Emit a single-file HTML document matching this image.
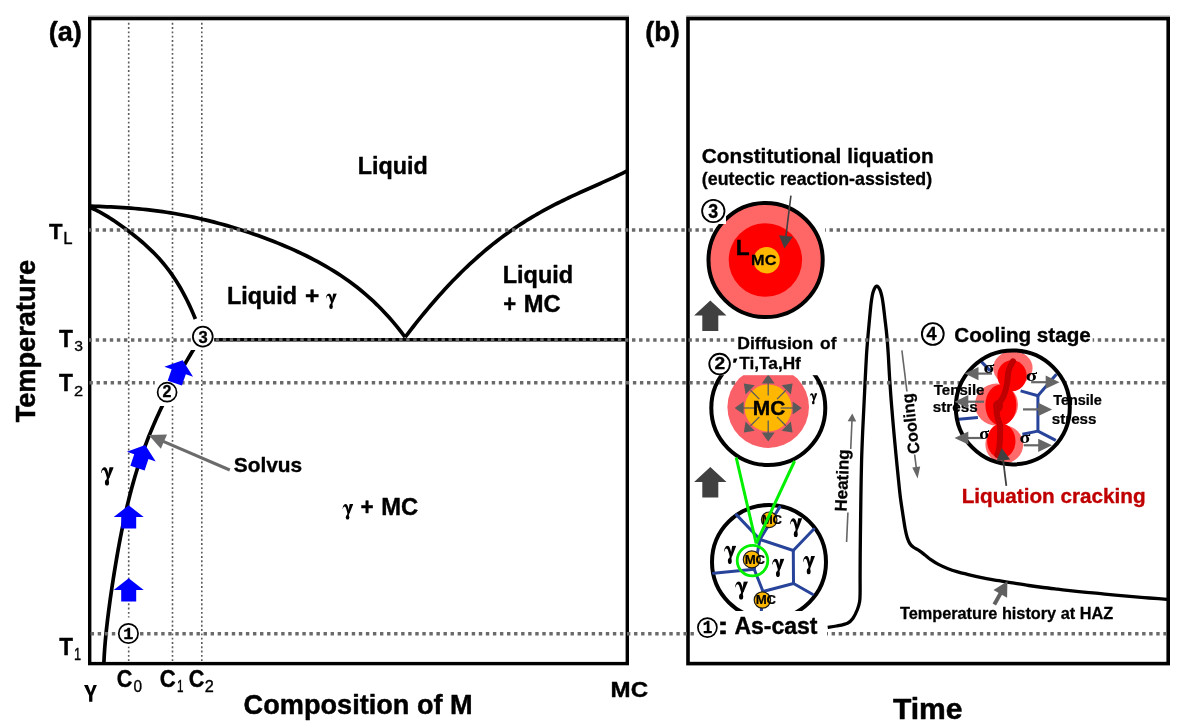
<!DOCTYPE html><html><head><meta charset="utf-8"><style>html,body{margin:0;padding:0;background:#fff;width:1180px;height:728px;overflow:hidden}svg{display:block;will-change:transform}</style></head><body>
<svg width="1180" height="728" viewBox="0 0 1180 728">
<defs><symbol id="gam" viewBox="0 0 11 16" preserveAspectRatio="none"><path d="M0.2,5.2 C0.3,2.4 1.6,0.2 3.2,0.2 C4.8,0.2 5.4,2.0 6.0,4.0 L7.4,8.9 L5.2,9.5 L3.9,5.0 C3.4,3.3 3.0,2.6 2.3,2.6 C1.4,2.6 0.8,3.6 0.6,5.2 Z" fill="#000"/><path d="M7.4,0.2 L11,0.2 L7.3,9.3 L5.8,8.8 Z" fill="#000"/><path d="M5.4,8.4 L7.3,8.7 L6.4,12.0 L4.5,12.0 Z" fill="#000"/><ellipse cx="5.25" cy="13.4" rx="1.75" ry="2.6" fill="#000"/></symbol></defs>
<rect width="1180" height="728" fill="#fff"/>
<line x1="128.70" y1="21" x2="128.70" y2="662" stroke="#5a5a5a" stroke-width="1.6" stroke-dasharray="1.9 2.4" stroke-dashoffset="2.5"/>
<line x1="172.50" y1="21" x2="172.50" y2="662" stroke="#5a5a5a" stroke-width="1.6" stroke-dasharray="1.9 2.4" stroke-dashoffset="2.5"/>
<line x1="201.80" y1="21" x2="201.80" y2="662" stroke="#5a5a5a" stroke-width="1.6" stroke-dasharray="1.9 2.4" stroke-dashoffset="2.5"/>
<rect x="89.7" y="18.6" width="537.6" height="645" fill="none" stroke="#000" stroke-width="3.4"/>
<rect x="688.0" y="18.6" width="480.2" height="645" fill="none" stroke="#000" stroke-width="3.6"/>
<line x1="88" y1="16.2" x2="629" y2="16.2" stroke="#9a9a9a" stroke-width="1.4"/>
<line x1="686.2" y1="16.2" x2="1170" y2="16.2" stroke="#9a9a9a" stroke-width="1.4"/>
<path d="M91.00,206.19 L94.98,206.33 L98.95,206.47 L102.93,206.63 L106.90,206.79 L110.88,206.97 L114.86,207.17 L118.83,207.39 L122.81,207.63 L126.78,207.90 L130.76,208.19 L134.74,208.51 L138.71,208.87 L142.69,209.25 L146.66,209.66 L150.64,210.11 L154.62,210.60 L158.59,211.12 L162.57,211.67 L166.54,212.26 L170.52,212.89 L174.49,213.55 L178.47,214.24 L182.45,214.98 L186.42,215.75 L190.40,216.56 L194.37,217.40 L198.35,218.28 L202.33,219.19 L206.30,220.14 L210.28,221.12 L214.25,222.14 L218.23,223.19 L222.21,224.28 L226.18,225.40 L230.16,226.55 L234.13,227.74 L238.11,228.96 L242.09,230.22 L246.06,231.51 L250.04,232.84 L254.01,234.20 L257.99,235.59 L261.97,237.02 L265.94,238.49 L269.92,240.00 L273.89,241.54 L277.87,243.13 L281.85,244.76 L285.82,246.43 L289.80,248.15 L293.77,249.92 L297.75,251.73 L301.73,253.60 L305.70,255.53 L309.68,257.52 L313.65,259.57 L317.63,261.68 L321.61,263.87 L325.58,266.13 L329.56,268.47 L333.53,270.90 L337.51,273.42 L341.48,276.03 L345.46,278.75 L349.44,281.57 L353.41,284.51 L357.39,287.58 L361.36,290.77 L365.34,294.11 L369.32,297.59 L373.29,301.23 L377.27,305.04 L381.24,309.02 L385.22,313.19 L389.20,317.56 L393.17,322.14 L397.15,326.93 L401.12,331.97 L405.10,337.25" fill="none" stroke="#000" stroke-width="3.70" stroke-linejoin="round"/>
<path d="M91.00,207.78 L93.13,208.72 L95.26,209.72 L97.39,210.79 L99.52,211.92 L101.65,213.09 L103.78,214.31 L105.91,215.58 L108.04,216.89 L110.18,218.23 L112.31,219.61 L114.44,221.02 L116.57,222.46 L118.70,223.93 L120.83,225.43 L122.96,226.95 L125.09,228.51 L127.22,230.09 L129.35,231.69 L131.48,233.33 L133.61,235.00 L135.74,236.70 L137.87,238.44 L140.00,240.21 L142.13,242.03 L144.27,243.89 L146.40,245.80 L148.53,247.77 L150.66,249.79 L152.79,251.88 L154.92,254.04 L157.05,256.27 L159.18,258.59 L161.31,260.99 L163.44,263.49 L165.57,266.10 L167.70,268.82 L169.83,271.66 L171.96,274.64 L174.09,277.75 L176.22,281.01 L178.36,284.44 L180.49,288.04 L182.62,291.81 L184.75,295.79 L186.88,299.97 L189.01,304.37 L191.14,309.00 L193.27,313.88 L195.40,319.01" fill="none" stroke="#000" stroke-width="3.70" stroke-linejoin="round"/>
<path d="M405.10,337.23 L407.92,333.53 L410.74,329.87 L413.56,326.25 L416.39,322.68 L419.21,319.16 L422.03,315.68 L424.85,312.25 L427.67,308.87 L430.49,305.53 L433.32,302.24 L436.14,299.00 L438.96,295.80 L441.78,292.66 L444.60,289.57 L447.42,286.52 L450.24,283.52 L453.07,280.57 L455.89,277.68 L458.71,274.83 L461.53,272.03 L464.35,269.28 L467.17,266.57 L469.99,263.92 L472.82,261.32 L475.64,258.76 L478.46,256.25 L481.28,253.79 L484.10,251.38 L486.92,249.02 L489.75,246.70 L492.57,244.43 L495.39,242.20 L498.21,240.02 L501.03,237.89 L503.85,235.79 L506.67,233.75 L509.50,231.74 L512.32,229.78 L515.14,227.85 L517.96,225.97 L520.78,224.13 L523.60,222.32 L526.43,220.55 L529.25,218.82 L532.07,217.13 L534.89,215.47 L537.71,213.84 L540.53,212.24 L543.35,210.68 L546.18,209.14 L549.00,207.64 L551.82,206.16 L554.64,204.70 L557.46,203.27 L560.28,201.87 L563.11,200.48 L565.93,199.12 L568.75,197.77 L571.57,196.44 L574.39,195.13 L577.21,193.83 L580.03,192.54 L582.86,191.26 L585.68,189.99 L588.50,188.72 L591.32,187.46 L594.14,186.21 L596.96,184.95 L599.78,183.69 L602.61,182.43 L605.43,181.16 L608.25,179.89 L611.07,178.60 L613.89,177.31 L616.71,176.00 L619.54,174.67 L622.36,173.33 L625.18,171.96 L628.00,170.57" fill="none" stroke="#000" stroke-width="3.70" stroke-linejoin="round"/>
<path d="M200.60,338.00 L198.35,341.64 L196.11,345.28 L193.88,348.92 L191.67,352.56 L189.48,356.20 L187.31,359.84 L185.16,363.48 L183.04,367.12 L180.94,370.76 L178.87,374.40 L176.83,378.04 L174.82,381.69 L172.84,385.33 L170.89,388.97 L168.98,392.61 L167.10,396.25 L165.26,399.89 L163.45,403.53 L161.68,407.17 L159.95,410.81 L158.26,414.45 L156.60,418.09 L154.98,421.73 L153.40,425.37 L151.85,429.01 L150.34,432.65 L148.87,436.29 L147.44,439.93 L146.04,443.57 L144.68,447.21 L143.36,450.85 L142.07,454.49 L140.81,458.13 L139.59,461.78 L138.40,465.42 L137.25,469.06 L136.12,472.70 L135.03,476.34 L133.97,479.98 L132.93,483.62 L131.93,487.26 L130.95,490.90 L130.00,494.54 L129.07,498.18 L128.17,501.82 L127.29,505.46 L126.43,509.10 L125.60,512.74 L124.79,516.38 L123.99,520.02 L123.22,523.66 L122.46,527.30 L121.72,530.94 L121.00,534.58 L120.29,538.22 L119.60,541.87 L118.92,545.51 L118.26,549.15 L117.61,552.79 L116.97,556.43 L116.34,560.07 L115.72,563.71 L115.12,567.35 L114.52,570.99 L113.94,574.63 L113.36,578.27 L112.80,581.91 L112.24,585.55 L111.69,589.19 L111.16,592.83 L110.63,596.47 L110.12,600.11 L109.62,603.75 L109.13,607.39 L108.65,611.03 L108.18,614.67 L107.73,618.31 L107.30,621.96 L106.88,625.60 L106.47,629.24 L106.09,632.88 L105.73,636.52 L105.39,640.16 L105.07,643.80 L104.78,647.44 L104.52,651.08 L104.29,654.72 L104.09,658.36 L103.93,662.00" fill="none" stroke="#000" stroke-width="3.70" stroke-linejoin="round"/>
<line x1="213" y1="339.8" x2="627" y2="339.8" stroke="#000" stroke-width="3.4"/>
<rect x="191.00" y="321.00" width="23.20" height="29.00" fill="#fff"/>
<rect x="155.00" y="377.00" width="26.50" height="29.00" fill="#fff"/>
<rect x="117.50" y="617.50" width="22.00" height="29.00" fill="#fff"/>
<path d="M827.70,627.30 C829.17,627.08 833.20,626.68 836.50,626.00 C839.80,625.32 844.75,624.50 847.50,623.20 C850.25,621.90 851.35,620.48 853.00,618.20 C854.65,615.92 856.30,612.23 857.40,609.50 C858.50,606.77 859.15,604.55 859.60,601.80 C860.05,599.05 860.02,597.22 860.10,593.00 C860.18,588.78 860.08,582.83 860.10,576.50 C860.12,570.17 860.12,564.42 860.20,555.00 C860.28,545.58 860.47,530.83 860.60,520.00 C860.73,509.17 860.83,500.00 861.00,490.00 C861.17,480.00 861.32,469.83 861.60,460.00 C861.88,450.17 862.30,440.27 862.70,431.00 C863.10,421.73 863.58,412.95 864.00,404.40 C864.42,395.85 864.78,387.93 865.20,379.70 C865.62,371.47 866.10,361.55 866.50,355.00 C866.90,348.45 867.22,345.07 867.60,340.40 C867.98,335.73 868.40,331.40 868.80,327.00 C869.20,322.60 869.57,318.33 870.00,314.00 C870.43,309.67 870.85,304.75 871.40,301.00 C871.95,297.25 872.42,293.97 873.30,291.50 C874.18,289.03 875.58,286.45 876.70,286.20 C877.82,285.95 879.08,288.03 880.00,290.00 C880.92,291.97 881.60,295.08 882.20,298.00 C882.80,300.92 883.15,304.08 883.60,307.50 C884.05,310.92 884.47,314.83 884.90,318.50 C885.33,322.17 885.80,325.75 886.20,329.50 C886.60,333.25 886.95,336.75 887.30,341.00 C887.65,345.25 887.90,348.55 888.30,355.00 C888.70,361.45 889.17,371.47 889.70,379.70 C890.23,387.93 890.85,396.17 891.50,404.40 C892.15,412.63 892.87,420.87 893.60,429.10 C894.33,437.33 895.17,446.15 895.90,453.80 C896.63,461.45 897.28,467.97 898.00,475.00 C898.72,482.03 899.40,489.50 900.20,496.00 C901.00,502.50 901.97,508.50 902.80,514.00 C903.63,519.50 904.47,525.08 905.20,529.00 C905.93,532.92 906.43,535.08 907.20,537.50 C907.97,539.92 908.75,541.87 909.80,543.50 C910.85,545.13 911.93,546.12 913.50,547.30 C915.07,548.48 917.28,549.32 919.20,550.60 C921.12,551.88 923.07,553.50 925.00,555.00 C926.93,556.50 928.55,558.03 930.80,559.60 C933.05,561.17 935.62,562.88 938.50,564.40 C941.38,565.92 944.90,567.47 948.10,568.70 C951.30,569.93 954.50,570.87 957.70,571.80 C960.90,572.73 964.10,573.50 967.30,574.30 C970.50,575.10 973.70,575.88 976.90,576.60 C980.10,577.32 983.28,577.98 986.50,578.60 C989.72,579.22 992.98,579.77 996.20,580.30 C999.42,580.83 1002.77,581.32 1005.80,581.80 C1008.83,582.28 1010.57,582.58 1014.40,583.20 C1018.23,583.82 1024.00,584.78 1028.80,585.50 C1033.60,586.22 1038.40,586.88 1043.20,587.50 C1048.00,588.12 1052.80,588.65 1057.60,589.20 C1062.40,589.75 1067.18,590.28 1072.00,590.80 C1076.82,591.32 1081.68,591.82 1086.50,592.30 C1091.32,592.78 1096.10,593.23 1100.90,593.70 C1105.70,594.17 1110.50,594.65 1115.30,595.10 C1120.10,595.55 1124.90,595.98 1129.70,596.40 C1134.50,596.82 1139.30,597.22 1144.10,597.60 C1148.90,597.98 1154.68,598.40 1158.50,598.70 C1162.32,599.00 1165.58,599.28 1167.00,599.40" fill="none" stroke="#000" stroke-width="3.3" stroke-linejoin="round"/>
<line x1="89.00" y1="230.00" x2="740.00" y2="230.00" stroke="#6a6a6a" stroke-width="3.4" stroke-dasharray="3.4 3.657" stroke-dashoffset="0.457"/>
<line x1="825.00" y1="230.00" x2="1167.00" y2="230.00" stroke="#6a6a6a" stroke-width="3.4" stroke-dasharray="3.4 3.657" stroke-dashoffset="2.529"/>
<line x1="89.00" y1="340.00" x2="736.40" y2="340.00" stroke="#6a6a6a" stroke-width="3.4" stroke-dasharray="3.4 3.657" stroke-dashoffset="0.357"/>
<line x1="842.60" y1="340.00" x2="919.00" y2="340.00" stroke="#6a6a6a" stroke-width="3.4" stroke-dasharray="3.4 3.657" stroke-dashoffset="5.915"/>
<line x1="1092.40" y1="340.00" x2="1167.00" y2="340.00" stroke="#6a6a6a" stroke-width="3.4" stroke-dasharray="3.4 3.657" stroke-dashoffset="1.663"/>
<line x1="89.00" y1="382.80" x2="154.80" y2="382.80" stroke="#6a6a6a" stroke-width="3.4" stroke-dasharray="3.4 3.657" stroke-dashoffset="6.564"/>
<line x1="181.50" y1="382.80" x2="736.50" y2="382.80" stroke="#6a6a6a" stroke-width="3.4" stroke-dasharray="3.4 3.657" stroke-dashoffset="0.266"/>
<line x1="799.00" y1="382.80" x2="1167.00" y2="382.80" stroke="#6a6a6a" stroke-width="3.4" stroke-dasharray="3.4 3.657" stroke-dashoffset="3.807"/>
<line x1="89.00" y1="633.80" x2="117.50" y2="633.80" stroke="#6a6a6a" stroke-width="3.4" stroke-dasharray="3.4 3.657" stroke-dashoffset="5.407"/>
<line x1="139.50" y1="633.80" x2="695.00" y2="633.80" stroke="#6a6a6a" stroke-width="3.4" stroke-dasharray="3.4 3.657" stroke-dashoffset="6.508"/>
<line x1="827.00" y1="633.80" x2="1167.00" y2="633.80" stroke="#6a6a6a" stroke-width="3.4" stroke-dasharray="3.4 3.657" stroke-dashoffset="2.422"/>
<circle cx="128.40" cy="633.50" r="9.70" fill="#fff" stroke="#000" stroke-width="1.70"/>
<text transform="translate(128.40 633.60) scale(0.976 1)" x="-5.40" y="5.70" font-size="17.30" style="font-family:'Liberation Mono';font-weight:bold" stroke="#000" stroke-width="0.35">1</text>
<circle cx="167.10" cy="392.20" r="9.50" fill="#fff" stroke="#000" stroke-width="1.70"/>
<text transform="translate(167.05 391.60) scale(1.000 1)" x="-4.45" y="5.60" font-size="16.00" style="font-family:'Liberation Sans';font-weight:bold" stroke="#000" stroke-width="0.35">2</text>
<circle cx="202.80" cy="336.60" r="9.90" fill="#fff" stroke="#000" stroke-width="1.75"/>
<text transform="translate(203.00 336.90) scale(0.976 1)" x="-4.60" y="5.85" font-size="17.00" style="font-family:'Liberation Sans';font-weight:bold" stroke="#000" stroke-width="0.35">3</text>
<polygon points="128.70,578.30 143.70,590.10 136.20,590.10 136.20,601.60 121.20,601.60 121.20,590.10 113.70,590.10" fill="#0000ff"/>
<polygon points="128.70,505.30 143.70,517.10 136.20,517.10 136.20,528.60 121.20,528.60 121.20,517.10 113.70,517.10" fill="#0000ff"/>
<polygon points="145.20,445.00 160.40,457.20 152.70,457.20 152.70,469.30 137.70,469.30 137.70,457.20 130.00,457.20" fill="#0000ff" transform="rotate(18.50 145.20 445.00)"/>
<polygon points="182.70,360.20 197.90,372.40 190.20,372.40 190.20,384.50 175.20,384.50 175.20,372.40 167.50,372.40" fill="#0000ff" transform="rotate(19.00 182.70 360.20)"/>
<line x1="229.80" y1="470.00" x2="163.21" y2="441.26" stroke="#6b6b6b" stroke-width="3.00"/><polygon points="148.70,435.00 167.03,434.42 160.85,448.74" fill="#6b6b6b"/>
<text x="48.65" y="41.00" font-size="27.50" style="font-family:'Liberation Sans';font-weight:bold" textLength="33.21" lengthAdjust="spacingAndGlyphs" stroke="#000" stroke-width="0.47" stroke-linejoin="round">(a)</text>
<text x="357.81" y="173.90" font-size="23.50" style="font-family:'Liberation Sans';font-weight:bold" textLength="69.95" lengthAdjust="spacingAndGlyphs" stroke="#000" stroke-width="0.40" stroke-linejoin="round">Liquid</text>
<text x="226.91" y="304.20" font-size="23.50" style="font-family:'Liberation Sans';font-weight:bold" textLength="70.16" lengthAdjust="spacingAndGlyphs" stroke="#000" stroke-width="0.40" stroke-linejoin="round">Liquid</text>
<text x="305.06" y="304.20" font-size="23.50" style="font-family:'Liberation Sans';font-weight:bold" textLength="14.30" lengthAdjust="spacingAndGlyphs" stroke="#000" stroke-width="0.40" stroke-linejoin="round">+</text>
<use href="#gam" x="325.70" y="293.20" width="11.20" height="15.80"/>
<text x="502.70" y="283.10" font-size="23.50" style="font-family:'Liberation Sans';font-weight:bold" stroke="#000" stroke-width="0.40" stroke-linejoin="round">Liquid</text>
<text x="503.36" y="311.50" font-size="23.50" style="font-family:'Liberation Sans';font-weight:bold" textLength="12.91" lengthAdjust="spacingAndGlyphs" stroke="#000" stroke-width="0.40" stroke-linejoin="round">+</text>
<text x="523.69" y="311.50" font-size="23.50" style="font-family:'Liberation Sans';font-weight:bold" textLength="36.86" lengthAdjust="spacingAndGlyphs" stroke="#000" stroke-width="0.40" stroke-linejoin="round">MC</text>
<text x="233.78" y="471.60" font-size="21.00" style="font-family:'Liberation Sans';font-weight:bold" textLength="68.39" lengthAdjust="spacingAndGlyphs" stroke="#000" stroke-width="0.36" stroke-linejoin="round">Solvus</text>
<use href="#gam" x="342.30" y="503.90" width="11.00" height="15.90"/>
<text x="360.44" y="515.10" font-size="23.50" style="font-family:'Liberation Sans';font-weight:bold" textLength="13.14" lengthAdjust="spacingAndGlyphs" stroke="#000" stroke-width="0.40" stroke-linejoin="round">+</text>
<text x="381.18" y="515.10" font-size="23.50" style="font-family:'Liberation Sans';font-weight:bold" textLength="36.97" lengthAdjust="spacingAndGlyphs" stroke="#000" stroke-width="0.40" stroke-linejoin="round">MC</text>
<use href="#gam" x="100.80" y="467.00" width="12.95" height="18.70"/>
<text x="48.95" y="239.10" font-size="22.60" style="font-family:'Liberation Sans';font-weight:bold" textLength="13.57" lengthAdjust="spacingAndGlyphs" stroke="#000" stroke-width="0.38" stroke-linejoin="round">T</text>
<text x="63.33" y="244.40" font-size="15.80" style="font-family:'Liberation Sans';font-weight:normal" textLength="9.29" lengthAdjust="spacingAndGlyphs" stroke="#000" stroke-width="0.35">L</text>
<text x="59.12" y="346.60" font-size="24.00" style="font-family:'Liberation Sans';font-weight:bold" textLength="13.92" lengthAdjust="spacingAndGlyphs" stroke="#000" stroke-width="0.41" stroke-linejoin="round">T</text>
<text x="74.19" y="351.20" font-size="15.50" style="font-family:'Liberation Sans';font-weight:normal" textLength="8.74" lengthAdjust="spacingAndGlyphs" stroke="#000" stroke-width="0.35">3</text>
<text x="59.12" y="391.20" font-size="24.00" style="font-family:'Liberation Sans';font-weight:bold" textLength="13.92" lengthAdjust="spacingAndGlyphs" stroke="#000" stroke-width="0.41" stroke-linejoin="round">T</text>
<text x="73.95" y="396.20" font-size="15.50" style="font-family:'Liberation Sans';font-weight:normal" textLength="9.11" lengthAdjust="spacingAndGlyphs" stroke="#000" stroke-width="0.35">2</text>
<text x="59.21" y="654.80" font-size="23.50" style="font-family:'Liberation Sans';font-weight:bold" textLength="13.73" lengthAdjust="spacingAndGlyphs" stroke="#000" stroke-width="0.40" stroke-linejoin="round">T</text>
<text x="74.03" y="659.50" font-size="15.80" style="font-family:'Liberation Sans';font-weight:normal" textLength="7.11" lengthAdjust="spacingAndGlyphs" stroke="#000" stroke-width="0.35">1</text>
<text transform="translate(34.60 422.00) rotate(-90.00)" x="-0.30" y="0" font-size="27.50" style="font-family:'Liberation Sans';font-weight:bold" textLength="162.46" lengthAdjust="spacingAndGlyphs" stroke="#000" stroke-width="0.47" stroke-linejoin="round">Temperature</text>
<polygon points="84,685.1 87.9,685.1 90.8,692.4 93.5,685.1 96.9,685.1 92.4,695.6 92.4,701.7 89.1,701.7 89.1,695.6" fill="#000"/>
<text x="116.85" y="687.20" font-size="23.00" style="font-family:'Liberation Sans';font-weight:bold" textLength="15.63" lengthAdjust="spacingAndGlyphs" stroke="#000" stroke-width="0.39" stroke-linejoin="round">C</text>
<text x="133.42" y="691.90" font-size="16.00" style="font-family:'Liberation Sans';font-weight:normal" textLength="8.55" lengthAdjust="spacingAndGlyphs" stroke="#000" stroke-width="0.35">0</text>
<text x="159.63" y="687.20" font-size="23.00" style="font-family:'Liberation Sans';font-weight:bold" textLength="15.96" lengthAdjust="spacingAndGlyphs" stroke="#000" stroke-width="0.39" stroke-linejoin="round">C</text>
<text x="176.94" y="692.40" font-size="16.30" style="font-family:'Liberation Sans';font-weight:normal" textLength="6.51" lengthAdjust="spacingAndGlyphs" stroke="#000" stroke-width="0.35">1</text>
<text x="188.65" y="687.20" font-size="23.00" style="font-family:'Liberation Sans';font-weight:bold" textLength="15.63" lengthAdjust="spacingAndGlyphs" stroke="#000" stroke-width="0.39" stroke-linejoin="round">C</text>
<text x="204.80" y="692.40" font-size="16.30" style="font-family:'Liberation Sans';font-weight:normal" stroke="#000" stroke-width="0.35">2</text>
<text x="610.58" y="697.00" font-size="22.50" style="font-family:'Liberation Sans';font-weight:bold" textLength="37.47" lengthAdjust="spacingAndGlyphs" stroke="#000" stroke-width="0.38" stroke-linejoin="round">MC</text>
<text x="243.62" y="714.30" font-size="27.00" style="font-family:'Liberation Sans';font-weight:bold" textLength="229.11" lengthAdjust="spacingAndGlyphs" stroke="#000" stroke-width="0.46" stroke-linejoin="round">Composition of M</text>
<text x="645.25" y="40.80" font-size="27.30" style="font-family:'Liberation Sans';font-weight:bold" textLength="34.47" lengthAdjust="spacingAndGlyphs" stroke="#000" stroke-width="0.46" stroke-linejoin="round">(b)</text>
<text x="701.76" y="162.60" font-size="20.50" style="font-family:'Liberation Sans';font-weight:bold" textLength="231.96" lengthAdjust="spacingAndGlyphs" stroke="#000" stroke-width="0.35" stroke-linejoin="round">Constitutional liquation</text>
<text x="701.85" y="184.80" font-size="17.80" style="font-family:'Liberation Sans';font-weight:bold" stroke="#000" stroke-width="0.30" stroke-linejoin="round">(eutectic reaction-assisted)</text>
<circle cx="765.6" cy="260" r="57.1" fill="#ff6666" stroke="#000" stroke-width="4"/>
<circle cx="765.4" cy="260" r="36.7" fill="#ff0000"/>
<circle cx="766.6" cy="260.2" r="13.2" fill="#ffb700"/>
<text x="735.81" y="254.90" font-size="21.50" style="font-family:'Liberation Sans';font-weight:bold" textLength="13.88" lengthAdjust="spacingAndGlyphs" stroke="#000" stroke-width="0.37" stroke-linejoin="round">L</text>
<text x="751.08" y="265.10" font-size="15.50" style="font-family:'Liberation Sans';font-weight:bold" textLength="25.32" lengthAdjust="spacingAndGlyphs" stroke="#000" stroke-width="0.26" stroke-linejoin="round">MC</text>
<line x1="790.90" y1="195.60" x2="785.83" y2="236.79" stroke="#404040" stroke-width="1.60"/><polygon points="784.40,248.40 778.98,235.14 792.87,236.85" fill="#404040"/>
<rect x="700.00" y="199.00" width="26.00" height="25.00" fill="#fff"/>
<circle cx="713.30" cy="211.00" r="11.20" fill="#fff" stroke="#000" stroke-width="1.80"/>
<text transform="translate(713.20 210.85) scale(0.917 1)" x="-5.30" y="6.65" font-size="19.40" style="font-family:'Liberation Sans';font-weight:bold" stroke="#000" stroke-width="0.35">3</text>
<polygon points="710.30,300.50 726.50,315.60 718.30,315.60 718.30,331.00 702.30,331.00 702.30,315.60 694.10,315.60" fill="#404040"/>
<polygon points="710.30,467.00 726.50,482.10 718.30,482.10 718.30,497.50 702.30,497.50 702.30,482.10 694.10,482.10" fill="#404040"/>
<circle cx="768.3" cy="408" r="57" fill="none" stroke="#000" stroke-width="4"/>
<circle cx="768.2" cy="407.1" r="40.8" fill="#fa6068"/>
<circle cx="768.2" cy="408" r="23.5" fill="#ffb700"/>
<line x1="727.00" y1="382.80" x2="737.00" y2="382.80" stroke="#6a6a6a" stroke-width="3.4" stroke-dasharray="3.4 3.657" stroke-dashoffset="2.377"/>
<line x1="799.00" y1="382.80" x2="810.00" y2="382.80" stroke="#6a6a6a" stroke-width="3.4" stroke-dasharray="3.4 3.657" stroke-dashoffset="3.807"/>
<line x1="780.70" y1="408.00" x2="793.20" y2="408.00" stroke="#5a5a5a" stroke-width="1.3"/>
<polygon points="801.70,408.00 792.70,414.50 792.70,401.50" fill="#5a5a5a"/>
<line x1="777.04" y1="416.84" x2="785.88" y2="425.68" stroke="#5a5a5a" stroke-width="1.3"/>
<polygon points="792.60,432.40 781.64,430.63 790.83,421.44" fill="#5a5a5a"/>
<line x1="768.20" y1="420.50" x2="768.20" y2="433.00" stroke="#5a5a5a" stroke-width="1.3"/>
<polygon points="768.20,441.50 761.70,432.50 774.70,432.50" fill="#5a5a5a"/>
<line x1="759.36" y1="416.84" x2="750.52" y2="425.68" stroke="#5a5a5a" stroke-width="1.3"/>
<polygon points="743.80,432.40 745.57,421.44 754.76,430.63" fill="#5a5a5a"/>
<line x1="755.70" y1="408.00" x2="743.20" y2="408.00" stroke="#5a5a5a" stroke-width="1.3"/>
<polygon points="734.70,408.00 743.70,401.50 743.70,414.50" fill="#5a5a5a"/>
<line x1="759.36" y1="399.16" x2="750.52" y2="390.32" stroke="#5a5a5a" stroke-width="1.3"/>
<polygon points="743.80,383.60 754.76,385.37 745.57,394.56" fill="#5a5a5a"/>
<line x1="768.20" y1="395.50" x2="768.20" y2="383.00" stroke="#5a5a5a" stroke-width="1.3"/>
<polygon points="768.20,374.50 774.70,383.50 761.70,383.50" fill="#5a5a5a"/>
<line x1="777.04" y1="399.16" x2="785.88" y2="390.32" stroke="#5a5a5a" stroke-width="1.3"/>
<polygon points="792.60,383.60 790.83,394.56 781.64,385.37" fill="#5a5a5a"/>
<text x="752.73" y="414.50" font-size="20.30" style="font-family:'Liberation Sans';font-weight:bold" textLength="32.58" lengthAdjust="spacingAndGlyphs" stroke="#000" stroke-width="0.35" stroke-linejoin="round">MC</text>
<use href="#gam" x="809.50" y="393.00" width="7.90" height="11.60"/>
<rect x="736.40" y="331.00" width="106.20" height="22.50" fill="#fff"/>
<rect x="708.00" y="352.00" width="110.00" height="23.20" fill="#fff"/>
<text x="737.21" y="349.00" font-size="17.00" style="font-family:'Liberation Sans';font-weight:bold" textLength="76.14" lengthAdjust="spacingAndGlyphs" stroke="#000" stroke-width="0.29" stroke-linejoin="round">Diffusion</text>
<text x="820.13" y="349.00" font-size="17.00" style="font-family:'Liberation Sans';font-weight:bold" textLength="16.37" lengthAdjust="spacingAndGlyphs" stroke="#000" stroke-width="0.29" stroke-linejoin="round">of</text>
<text x="739.32" y="369.10" font-size="16.00" style="font-family:'Liberation Sans';font-weight:bold" textLength="61.52" lengthAdjust="spacingAndGlyphs" stroke="#000" stroke-width="0.27" stroke-linejoin="round">Ti,Ta,Hf</text>
<path d="M733.6,358.4 L737.4,358.4 L735.6,362.8 L733.0,362.8 Z" fill="#000"/>
<circle cx="719.60" cy="364.10" r="10.30" fill="#fff" stroke="#000" stroke-width="1.90"/>
<text transform="translate(719.85 362.90) scale(1.108 1)" x="-4.75" y="6.05" font-size="17.30" style="font-family:'Liberation Sans';font-weight:bold" stroke="#000" stroke-width="0.35">2</text>
<circle cx="769" cy="562" r="57" fill="none" stroke="#000" stroke-width="4"/>
<line x1="736.30" y1="514.60" x2="760.00" y2="539.50" stroke="#27449a" stroke-width="3" stroke-linecap="round"/>
<line x1="779.60" y1="507.10" x2="760.00" y2="539.50" stroke="#27449a" stroke-width="3" stroke-linecap="round"/>
<line x1="760.00" y1="539.50" x2="793.30" y2="550.50" stroke="#27449a" stroke-width="3" stroke-linecap="round"/>
<line x1="793.30" y1="550.50" x2="813.90" y2="529.00" stroke="#27449a" stroke-width="3" stroke-linecap="round"/>
<line x1="793.30" y1="550.50" x2="793.50" y2="583.50" stroke="#27449a" stroke-width="3" stroke-linecap="round"/>
<line x1="793.50" y1="583.50" x2="763.00" y2="591.50" stroke="#27449a" stroke-width="3" stroke-linecap="round"/>
<line x1="793.50" y1="583.50" x2="812.50" y2="594.30" stroke="#27449a" stroke-width="3" stroke-linecap="round"/>
<line x1="713.50" y1="573.20" x2="754.20" y2="569.30" stroke="#27449a" stroke-width="3" stroke-linecap="round"/>
<line x1="760.00" y1="539.50" x2="754.20" y2="569.30" stroke="#27449a" stroke-width="3" stroke-linecap="round"/>
<line x1="754.20" y1="569.30" x2="763.00" y2="591.50" stroke="#27449a" stroke-width="3" stroke-linecap="round"/>
<line x1="762.40" y1="600.00" x2="761.30" y2="611.00" stroke="#27449a" stroke-width="3" stroke-linecap="round"/>
<circle cx="769.20" cy="519.80" r="7.80" fill="#ffb700" stroke="#1a1a1a" stroke-width="1.2"/>
<text x="761.63" y="524.20" font-size="13.50" style="font-family:'Liberation Sans';font-weight:bold" textLength="20.54" lengthAdjust="spacingAndGlyphs" stroke="#000" stroke-width="0.23" stroke-linejoin="round">MC</text>
<circle cx="751.80" cy="559.40" r="8.50" fill="#ffb700" stroke="#1a1a1a" stroke-width="1.2"/>
<text x="744.63" y="563.50" font-size="13.50" style="font-family:'Liberation Sans';font-weight:bold" textLength="20.54" lengthAdjust="spacingAndGlyphs" stroke="#000" stroke-width="0.23" stroke-linejoin="round">MC</text>
<circle cx="762.40" cy="600.00" r="8.20" fill="#ffb700" stroke="#1a1a1a" stroke-width="1.2"/>
<text x="755.63" y="604.20" font-size="13.50" style="font-family:'Liberation Sans';font-weight:bold" textLength="20.54" lengthAdjust="spacingAndGlyphs" stroke="#000" stroke-width="0.23" stroke-linejoin="round">MC</text>
<circle cx="752.5" cy="560.6" r="15.3" fill="none" stroke="#00f000" stroke-width="2.8"/>
<line x1="736.2" y1="457.5" x2="756.2" y2="543.5" stroke="#00f000" stroke-width="3"/>
<line x1="794.6" y1="461" x2="756.2" y2="543.5" stroke="#00f000" stroke-width="3"/>
<use href="#gam" x="789.90" y="518.00" width="12.30" height="19.30"/>
<use href="#gam" x="723.90" y="545.50" width="12.40" height="18.60"/>
<use href="#gam" x="772.00" y="558.60" width="12.40" height="18.50"/>
<use href="#gam" x="802.90" y="555.80" width="12.10" height="18.60"/>
<use href="#gam" x="734.90" y="581.20" width="13.10" height="18.60"/>
<rect x="695.00" y="611.00" width="132.00" height="30.00" fill="#fff"/>
<circle cx="707.40" cy="627.60" r="9.50" fill="#fff" stroke="#000" stroke-width="1.70"/>
<text transform="translate(707.75 627.45) scale(0.919 1)" x="-5.50" y="5.75" font-size="17.50" style="font-family:'Liberation Mono';font-weight:bold" stroke="#000" stroke-width="0.35">1</text>
<text x="717.05" y="634.20" font-size="23.00" style="font-family:'Liberation Sans';font-weight:bold" textLength="11.99" lengthAdjust="spacingAndGlyphs" stroke="#000" stroke-width="0.39" stroke-linejoin="round">:</text>
<text x="734.40" y="634.20" font-size="23.00" style="font-family:'Liberation Sans';font-weight:bold" stroke="#000" stroke-width="0.39" stroke-linejoin="round">As-cast</text>
<line x1="846.60" y1="542.00" x2="851.98" y2="420.59" stroke="#666" stroke-width="1.60"/><polygon points="852.30,413.40 856.24,421.58 847.65,421.20" fill="#666"/>
<polygon points="834.5,512.5 850.5,512.5 852,449 836,449" fill="#fff"/>
<text transform="translate(846.60 510.60) rotate(-87.50)" x="-1.10" y="0" font-size="17.00" style="font-family:'Liberation Sans';font-weight:bold" textLength="62.14" lengthAdjust="spacingAndGlyphs" stroke="#000" stroke-width="0.29" stroke-linejoin="round">Heating</text>
<line x1="901.90" y1="350.30" x2="916.30" y2="467.88" stroke="#666" stroke-width="1.60"/><polygon points="917.60,478.50 912.23,467.57 920.17,466.60" fill="#666"/>
<polygon points="901.5,391.5 913.5,391.5 921.5,454.5 909.5,454.5" fill="#fff"/>
<text transform="translate(919.60 452.60) rotate(-96.50)" x="-0.69" y="0" font-size="16.50" style="font-family:'Liberation Sans';font-weight:bold" textLength="60.90" lengthAdjust="spacingAndGlyphs" stroke="#000" stroke-width="0.28" stroke-linejoin="round">Cooling</text>
<rect x="918.80" y="323.00" width="173.60" height="24.00" fill="#fff"/>
<circle cx="932.80" cy="334.00" r="10.90" fill="#fff" stroke="#000" stroke-width="1.90"/>
<text transform="translate(931.75 333.50) scale(0.970 1)" x="-5.30" y="6.45" font-size="18.70" style="font-family:'Liberation Sans';font-weight:bold" stroke="#000" stroke-width="0.35">4</text>
<text x="954.36" y="341.60" font-size="20.30" style="font-family:'Liberation Sans';font-weight:bold" textLength="136.39" lengthAdjust="spacingAndGlyphs" stroke="#000" stroke-width="0.35" stroke-linejoin="round">Cooling stage</text>
<circle cx="1012.8" cy="407.4" r="57" fill="#fff"/>
<ellipse cx="1012.90" cy="368.10" rx="19.70" ry="17.20" fill="#ff6b6b"/>
<ellipse cx="996.50" cy="404.60" rx="21.50" ry="21.00" fill="#ff6b6b"/>
<ellipse cx="1004.30" cy="444.50" rx="18.90" ry="18.90" fill="#ff6b6b"/>
<ellipse cx="1012.00" cy="375.80" rx="14.60" ry="15.50" fill="#ff0000"/>
<ellipse cx="1000.90" cy="405.00" rx="15.50" ry="20.60" fill="#ff0000"/>
<ellipse cx="1001.30" cy="441.00" rx="14.20" ry="17.20" fill="#ff0000"/>
<path d="M1012.90,361.30 C1012.18,362.87 1009.60,366.83 1008.60,370.70 C1007.60,374.57 1007.77,380.20 1006.90,384.50 C1006.03,388.80 1005.05,392.75 1003.40,396.50 C1001.75,400.25 998.00,403.58 997.00,407.00 C996.00,410.42 996.90,413.90 997.40,417.00 C997.90,420.10 999.57,422.17 1000.00,425.60 C1000.43,429.03 1000.13,433.88 1000.00,437.60 C999.87,441.32 999.63,445.00 999.20,447.90 C998.77,450.80 997.70,453.82 997.40,455.00" fill="none" stroke="#c00000" stroke-width="6" stroke-linecap="round" stroke-linejoin="round"/>
<ellipse cx="998" cy="406" rx="5" ry="6" fill="#c00000"/>
<text x="933.81" y="394.70" font-size="14.20" style="font-family:'Liberation Sans';font-weight:bold" textLength="50.67" lengthAdjust="spacingAndGlyphs" stroke="#000" stroke-width="0.24" stroke-linejoin="round">Tensile</text>
<text x="932.78" y="411.90" font-size="14.20" style="font-family:'Liberation Sans';font-weight:bold" textLength="44.99" lengthAdjust="spacingAndGlyphs" stroke="#000" stroke-width="0.24" stroke-linejoin="round">stress</text>
<text x="1053.22" y="405.10" font-size="14.20" style="font-family:'Liberation Sans';font-weight:bold" textLength="48.65" lengthAdjust="spacingAndGlyphs" stroke="#000" stroke-width="0.24" stroke-linejoin="round">Tensile</text>
<text x="1051.68" y="423.70" font-size="14.20" style="font-family:'Liberation Sans';font-weight:bold" textLength="44.89" lengthAdjust="spacingAndGlyphs" stroke="#000" stroke-width="0.24" stroke-linejoin="round">stress</text>
<line x1="980.40" y1="360.60" x2="990.20" y2="370.90" stroke="#27449a" stroke-width="3"/>
<line x1="1056.40" y1="374.20" x2="1037.90" y2="395.80" stroke="#27449a" stroke-width="3"/>
<line x1="1037.90" y1="395.80" x2="1020.60" y2="390.90" stroke="#27449a" stroke-width="3"/>
<line x1="1037.90" y1="395.80" x2="1037.90" y2="431.10" stroke="#27449a" stroke-width="3"/>
<line x1="1037.90" y1="431.10" x2="1022.40" y2="434.20" stroke="#27449a" stroke-width="3"/>
<line x1="1037.90" y1="431.10" x2="1055.80" y2="440.30" stroke="#27449a" stroke-width="3"/>
<line x1="955.90" y1="419.50" x2="977.90" y2="417.40" stroke="#27449a" stroke-width="3"/>
<line x1="1021.00" y1="350.00" x2="1024.00" y2="353.00" stroke="#27449a" stroke-width="3"/>
<circle cx="1012.8" cy="407.4" r="57" fill="none" stroke="#000" stroke-width="4"/>
<line x1="992.00" y1="373.60" x2="977.70" y2="373.60" stroke="#666" stroke-width="2.20"/><polygon points="964.70,373.60 978.50,367.00 978.50,380.20" fill="#666"/>
<line x1="984.00" y1="401.70" x2="967.50" y2="401.70" stroke="#666" stroke-width="2.20"/><polygon points="954.50,401.70 968.30,395.10 968.30,408.30" fill="#666"/>
<line x1="982.70" y1="438.00" x2="967.50" y2="438.00" stroke="#666" stroke-width="2.20"/><polygon points="954.50,438.00 968.30,431.40 968.30,444.60" fill="#666"/>
<line x1="1031.10" y1="382.20" x2="1046.50" y2="382.20" stroke="#666" stroke-width="2.20"/><polygon points="1059.50,382.20 1045.70,388.80 1045.70,375.60" fill="#666"/>
<line x1="1023.00" y1="409.40" x2="1039.10" y2="409.40" stroke="#666" stroke-width="2.20"/><polygon points="1052.10,409.40 1038.30,416.00 1038.30,402.80" fill="#666"/>
<line x1="1023.70" y1="445.30" x2="1039.00" y2="445.30" stroke="#666" stroke-width="2.20"/><polygon points="1052.00,445.30 1038.20,451.90 1038.20,438.70" fill="#666"/>
<text x="983.59" y="372.80" font-size="17.00" style="font-family:'Liberation Serif';font-weight:bold" textLength="10.88" lengthAdjust="spacingAndGlyphs">σ</text>
<text x="1025.66" y="380.60" font-size="17.00" style="font-family:'Liberation Serif';font-weight:bold" textLength="11.42" lengthAdjust="spacingAndGlyphs">σ</text>
<text x="979.35" y="438.90" font-size="17.00" style="font-family:'Liberation Serif';font-weight:bold" textLength="10.01" lengthAdjust="spacingAndGlyphs">σ</text>
<text x="1019.59" y="443.20" font-size="17.00" style="font-family:'Liberation Serif';font-weight:bold" textLength="10.88" lengthAdjust="spacingAndGlyphs">σ</text>
<line x1="1006.30" y1="485.80" x2="1003.11" y2="459.51" stroke="#404040" stroke-width="1.80"/><polygon points="1001.70,447.90 1010.16,459.47 996.26,461.15" fill="#404040"/>
<text x="961.68" y="503.00" font-size="20.70" style="font-family:'Liberation Sans';font-weight:bold" fill="#c00000" stroke="#c00000" stroke-width="0.35" stroke-linejoin="round">Liquation cracking</text>
<line x1="994.30" y1="604.50" x2="1000.69" y2="593.14" stroke="#606060" stroke-width="4.00"/><polygon points="1007.40,581.20 1007.09,597.66 993.49,590.02" fill="#606060"/>
<text x="899.94" y="619.30" font-size="16.30" style="font-family:'Liberation Sans';font-weight:bold" stroke="#000" stroke-width="0.28" stroke-linejoin="round">Temperature history at HAZ</text>
<text x="892.94" y="718.60" font-size="29.50" style="font-family:'Liberation Sans';font-weight:bold" textLength="69.64" lengthAdjust="spacingAndGlyphs" stroke="#000" stroke-width="0.50" stroke-linejoin="round">Time</text>
</svg></body></html>
